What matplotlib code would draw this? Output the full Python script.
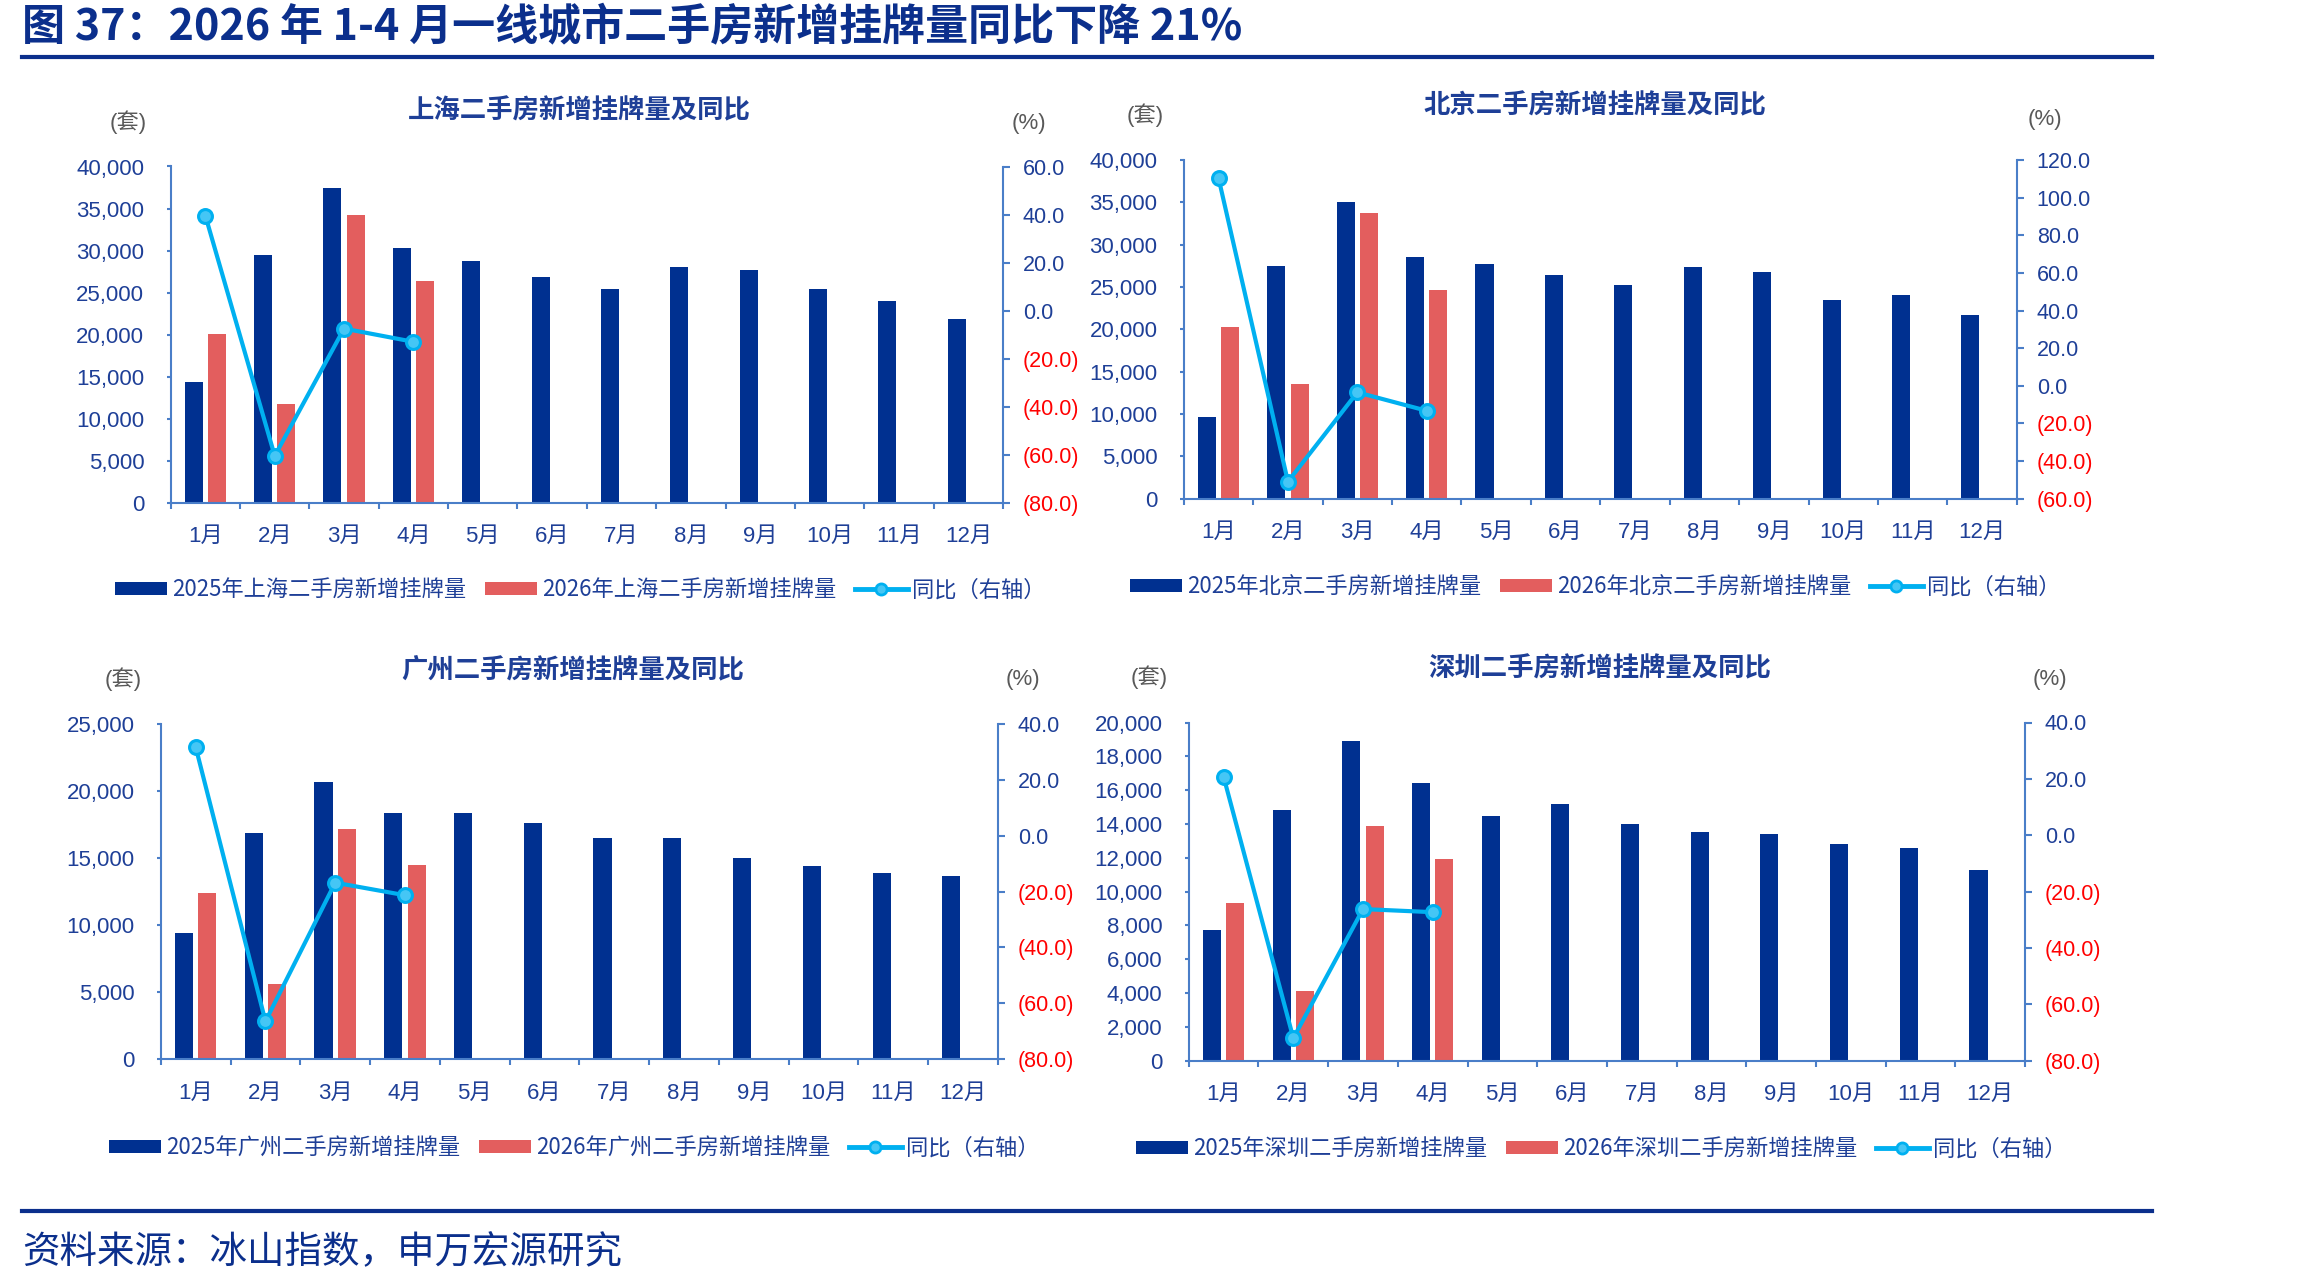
import numpy as np
import matplotlib
matplotlib.use('Agg')
import matplotlib.pyplot as plt
from matplotlib.patches import Patch
from matplotlib.lines import Line2D

# ---------------- data ----------------
months = ['1月', '2月', '3月', '4月', '5月', '6月', '7月', '8月', '9月', '10月', '11月', '12月']

sh_2025 = [14400, 29500, 37400, 30300, 28700, 26800, 25400, 28100, 27700, 25400, 24000, 21900]
sh_2026 = [20100, 11700, 34200, 26400]
sh_yoy = [39.5, -60.5, -7.5, -13.0]

bj_2025 = [9600, 27500, 35000, 28500, 27700, 26400, 25200, 27400, 26800, 23500, 24100, 21700]
bj_2026 = [20300, 13500, 33800, 24600]
bj_yoy = [110.5, -51.0, -3.5, -13.3]

gz_2025 = [9400, 16900, 20700, 18400, 18400, 17600, 16500, 16500, 15000, 14400, 13900, 13700]
gz_2026 = [12400, 5600, 17200, 14500]
gz_yoy = [31.8, -66.5, -16.8, -21.3]

sz_2025 = [7700, 14800, 18900, 16400, 14500, 15200, 14000, 13500, 13400, 12800, 12600, 11300]
sz_2026 = [9300, 4100, 13900, 11900]
sz_yoy = [20.7, -72.0, -26.2, -27.3]

cities = ['上海', '北京', '广州', '深圳']

main_title = '图 37：2026 年 1-4 月一线城市二手房新增挂牌量同比下降 21%'
source_text = '资料来源：冰山指数，申万宏源研究'

# ---------------- style ----------------
W, H = 2314, 1286
LATIN = ['Liberation Sans', 'Noto Sans CJK SC', 'DejaVu Sans']
CJK = ['Noto Sans CJK SC', 'DejaVu Sans']
plt.rcParams['font.family'] = LATIN

C_BLUE = '#003090'
C_RED = '#E35E5E'
C_LINE = '#00B0F0'
C_AXIS = '#4A7EC8'
C_TXT = '#1E3F97'
C_DARK = '#0B2F8C'
C_GRAY = '#595959'

fig = plt.figure(figsize=(W / 100, H / 100), dpi=100)


def fx(x):
    return x / W


def fy(y):
    return 1 - y / H


def fmt_left(v):
    return f'{int(v):,}'


def fmt_right(v):
    return f'({abs(v):.1f})' if v < 0 else f'{v:.1f}'


def panel(city, v25, v26, yoy, box, lmax, lstep, rlim, title_xy, unit_xy, pct_xy, leg_xy):
    left, right, top, bottom = box
    ax = fig.add_axes([fx(left), fy(bottom), (right - left) / W, (bottom - top) / H])
    n = len(months)
    x = np.arange(n)
    ax.bar(x - 0.168, v25, width=0.26, color=C_BLUE, zorder=2)
    ax.bar(np.arange(len(v26)) + 0.168, v26, width=0.26, color=C_RED, zorder=2)
    ax.set_xlim(-0.5, n - 0.5)
    ax.set_ylim(0, lmax)
    for s in ['top', 'right']:
        ax.spines[s].set_visible(False)
    for s in ['left', 'bottom']:
        ax.spines[s].set_color(C_AXIS)
        ax.spines[s].set_linewidth(1.5)
    lt = np.arange(0, lmax + 1, lstep)
    ax.set_yticks(lt, labels=[fmt_left(v) for v in lt])
    ax.tick_params(axis='y', direction='out', length=3, width=1.5, color=C_AXIS,
                   pad=16, labelsize=16, labelcolor=C_TXT)
    ax.set_xticks(np.arange(-0.5, n, 1), labels=[''] * (n + 1))
    ax.set_xticks(x, labels=months, minor=True)
    ax.tick_params(axis='x', which='major', direction='out', length=4.3, width=1.5, color=C_AXIS)
    ax.tick_params(axis='x', which='minor', length=0, pad=17, labelsize=16, labelcolor=C_TXT)

    ax2 = ax.twinx()
    ax2.set_ylim(*rlim)
    for s in ['top', 'left', 'bottom']:
        ax2.spines[s].set_visible(False)
    ax2.spines['right'].set_color(C_AXIS)
    ax2.spines['right'].set_linewidth(1.5)
    rt = np.arange(rlim[0], rlim[1] + 1, 20)
    ax2.set_yticks(rt, labels=[fmt_right(v) for v in rt])
    ax2.tick_params(axis='y', direction='out', length=4.8, width=1.5, color=C_AXIS,
                    pad=9.5, labelsize=15.5, labelcolor=C_TXT)
    for lab, v in zip(ax2.get_yticklabels(), rt):
        if v < 0:
            lab.set_color('#FF0000')
    ax2.plot(np.arange(len(yoy)), yoy, color=C_LINE, lw=3, marker='o', ms=10,
             mfc='#45C6F5', mec=C_LINE, mew=2.2, zorder=3)

    fig.text(fx(title_xy[0]), fy(title_xy[1]), f'{city}二手房新增挂牌量及同比', ha='center', va='center',
             fontsize=19, fontweight='bold', color=C_TXT, family=CJK)
    fig.text(fx(unit_xy[0]), fy(unit_xy[1]), '(套)', ha='center', va='center',
             fontsize=16, color=C_GRAY, family=LATIN)
    fig.text(fx(pct_xy[0]), fy(pct_xy[1]), '(%)', ha='center', va='center',
             fontsize=16, color=C_GRAY, family=LATIN)

    handles = [Patch(facecolor=C_BLUE, edgecolor='none'),
               Patch(facecolor=C_RED, edgecolor='none'),
               Line2D([], [], color=C_LINE, lw=3.5, marker='o', ms=8, mfc='#45C6F5', mec=C_LINE, mew=2)]
    labels = [f'2025年{city}二手房新增挂牌量', f'2026年{city}二手房新增挂牌量', '同比（右轴）']
    fig.legend(handles, labels, loc='center left', bbox_to_anchor=(fx(leg_xy[0]), fy(leg_xy[1])),
               bbox_transform=fig.transFigure, ncol=3, frameon=False, borderpad=0, borderaxespad=0,
               handlelength=2.35, handleheight=0.5, handletextpad=0.22, columnspacing=0.85,
               prop={'family': CJK, 'size': 16}, labelcolor=C_TXT)


panel(cities[0], sh_2025, sh_2026, sh_yoy, (170.7, 1003, 166.5, 502.7), 40000, 5000, (-80, 60),
      (579, 111), (128, 122), (1029, 123), (115, 590))
panel(cities[1], bj_2025, bj_2026, bj_yoy, (1183.8, 2016.8, 160.1, 498.6), 40000, 5000, (-60, 120),
      (1595, 106), (1145, 115), (2045, 119), (1130, 587))
panel(cities[2], gz_2025, gz_2026, gz_yoy, (160.8, 998, 724.2, 1059), 25000, 5000, (-80, 40),
      (573, 671), (123, 679), (1023, 680), (109, 1148))
panel(cities[3], sz_2025, sz_2026, sz_yoy, (1188.8, 2025, 722.5, 1060.7), 20000, 2000, (-80, 40),
      (1600, 668.5), (1149, 677), (2050, 680), (1136, 1149))

# header / footer
fig.text(fx(22), fy(27), main_title, ha='left', va='center', fontsize=31, fontweight='bold',
         color=C_DARK, family=CJK)
fig.add_artist(Line2D([fx(22), fx(2152)], [fy(56.5)] * 2, transform=fig.transFigure,
                      color=C_DARK, lw=3))
fig.add_artist(Line2D([fx(22), fx(2152)], [fy(1210.7)] * 2, transform=fig.transFigure,
                      color=C_DARK, lw=3))
fig.text(fx(22), fy(1253), source_text, ha='left', va='center', fontsize=27,
         color=C_DARK, family=CJK)

fig.savefig('out.png', dpi=100)
